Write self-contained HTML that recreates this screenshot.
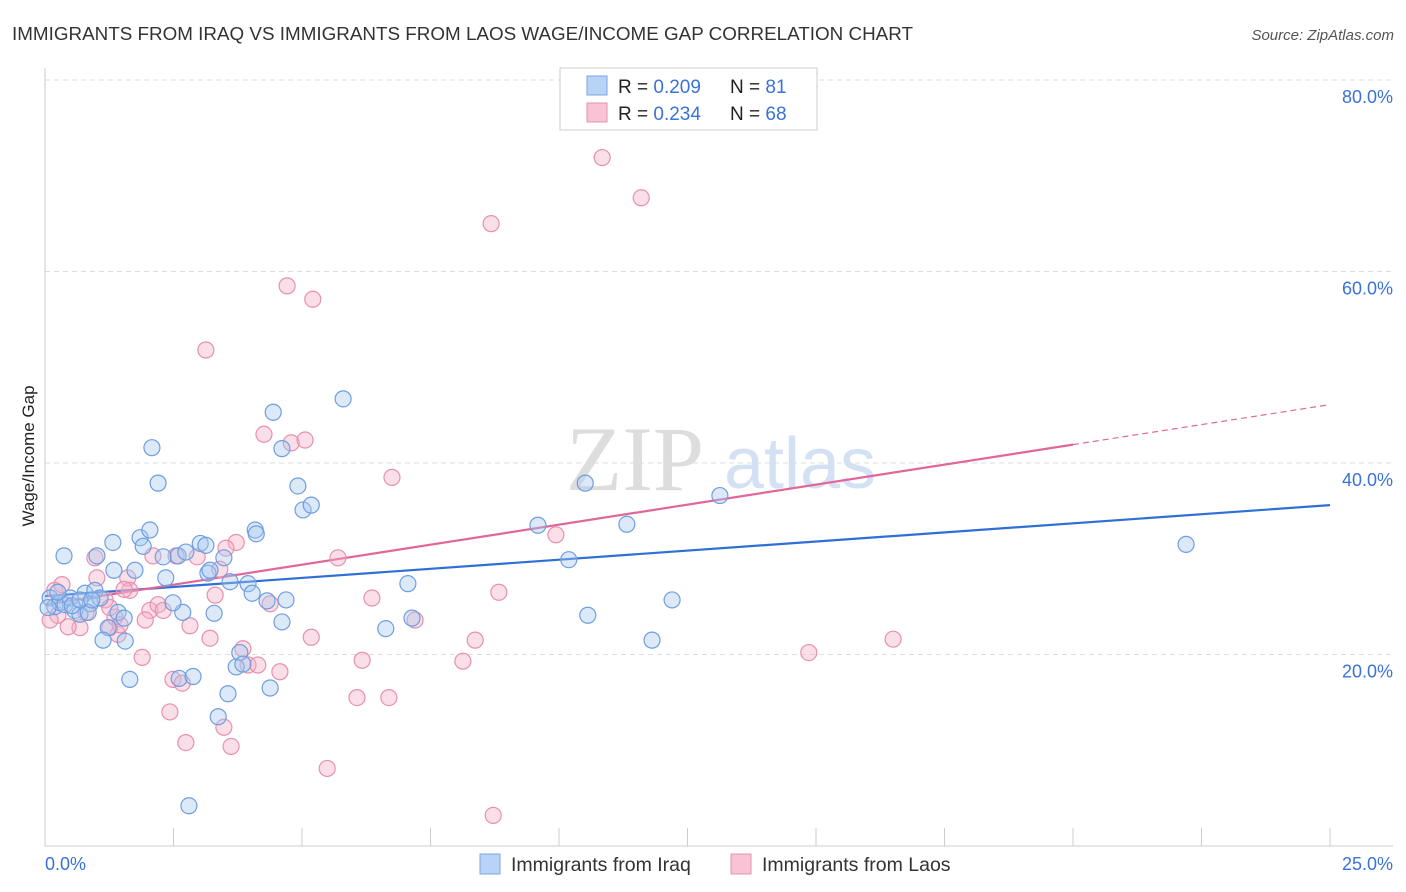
<!DOCTYPE html>
<html><head><meta charset="utf-8">
<style>
body{margin:0;background:#fff;font-family:"Liberation Sans",sans-serif;}
#wrap{position:relative;width:1406px;height:892px;overflow:hidden;}
</style></head>
<body>
<div id="wrap">
<svg id="svg" width="1406" height="892" xmlns="http://www.w3.org/2000/svg">
<text x="12" y="40" font-size="18" fill="#333" textLength="901" lengthAdjust="spacingAndGlyphs">IMMIGRANTS FROM IRAQ VS IMMIGRANTS FROM LAOS WAGE/INCOME GAP CORRELATION CHART</text>
<text x="1394" y="40" font-size="15" fill="#555" font-style="italic" text-anchor="end">Source: ZipAtlas.com</text>
<text x="34" y="456" font-size="17" fill="#222" text-anchor="middle" transform="rotate(-90 34 456)">Wage/Income Gap</text>
<g><text x="635" y="490" font-size="92" fill="#ddd" font-family="Liberation Serif,serif" text-anchor="middle">ZIP</text><text x="800" y="488" font-size="72" fill="#d4e1f4" text-anchor="middle">atlas</text></g>
<g id="grid"></g><g id="axes"></g><g id="lines"></g><g id="pts"></g>
<g>
<rect x="560" y="68" width="257" height="62" fill="#fff" stroke="#ccc"/>
<rect x="587" y="76" width="20" height="19" fill="#b9d3f5" stroke="#7aa6e0"/>
<rect x="587" y="103" width="20" height="19" fill="#f8c3d4" stroke="#e890ad"/>
<text x="618" y="93" font-size="19" fill="#222">R = <tspan fill="#3a72d8">0.209</tspan></text>
<text x="730" y="93" font-size="19" fill="#222">N = <tspan fill="#3a72d8"> 81</tspan></text>
<text x="618" y="120" font-size="19" fill="#222">R = <tspan fill="#3a72d8">0.234</tspan></text>
<text x="730" y="120" font-size="19" fill="#222">N = <tspan fill="#3a72d8">68</tspan></text>
</g>
<g>
<rect x="480" y="854" width="20" height="20" fill="#b9d3f5" stroke="#7aa6e0"/>
<text x="511" y="871" font-size="19.5" fill="#333">Immigrants from Iraq</text>
<rect x="731" y="854" width="20" height="20" fill="#f8c3d4" stroke="#e890ad"/>
<text x="762" y="871" font-size="19.5" fill="#333">Immigrants from Laos</text>
</g>
</svg>
</div>
<script>
const blueX=[0.37,1.01,1.32,2.08,2.20,1.85,2.04,1.91,2.30,2.59,2.74,3.02,3.13,2.35,3.17,3.21,3.48,3.60,3.95,4.03,4.09,4.11,4.44,4.61,4.92,5.02,5.18,5.80,4.32,4.69,4.61,3.29,2.68,2.49,1.42,1.54,1.23,1.13,1.56,1.65,2.61,2.88,3.56,3.37,2.80,3.79,3.72,3.85,4.38,6.63,7.06,7.14,9.59,10.19,10.51,10.56,11.32,11.81,12.20,13.13,22.20,0.10,0.19,0.29,0.39,0.49,0.58,0.68,0.78,0.88,0.97,1.07,0.06,0.25,1.75,1.34,0.84,0.53,0.68,0.91];
const blueY=[30.3,30.3,31.7,41.6,37.9,32.2,33.0,31.3,30.2,30.3,30.7,31.6,31.4,28.0,28.5,28.8,30.1,27.6,27.4,26.4,33.0,32.6,45.3,41.5,37.6,35.1,35.6,46.7,25.6,25.7,23.4,24.3,24.4,25.4,24.4,23.8,22.8,21.5,21.4,17.4,17.5,17.7,15.9,13.5,4.2,20.2,18.7,19.0,16.5,22.7,27.4,23.8,33.5,29.9,37.9,24.1,33.6,21.5,25.7,36.6,31.5,25.9,25.0,25.4,25.2,25.9,24.6,24.2,26.4,25.3,26.7,25.9,24.9,26.5,28.8,28.8,24.4,25.1,25.7,25.7];
const pinkX=[10.84,11.60,8.68,4.71,5.21,3.13,4.26,4.79,5.06,6.75,9.94,5.70,3.72,3.52,2.96,2.55,2.10,0.97,1.01,1.61,1.65,1.54,2.04,2.20,2.30,3.31,3.40,4.38,6.36,7.20,8.83,8.37,8.13,6.17,5.18,3.21,3.85,3.95,4.14,4.57,2.49,2.67,2.43,2.74,3.48,3.62,5.49,6.07,6.69,8.72,14.86,16.50,1.95,1.42,1.26,0.68,0.45,0.25,0.19,0.33,0.10,0.80,1.17,1.36,1.89,2.82,1.46,1.26];
const pinkY=[71.9,67.7,65.0,58.5,57.1,51.8,43.0,42.1,42.4,38.5,32.5,30.1,31.7,31.1,30.2,30.3,30.3,30.1,28.0,28.0,26.7,26.8,24.6,25.2,24.6,26.2,28.9,25.3,25.9,23.6,26.5,21.5,19.3,19.4,21.8,21.7,20.6,18.9,18.9,18.2,17.4,17.0,14.0,10.8,12.4,10.4,8.1,15.5,15.5,3.2,20.2,21.6,23.6,22.1,22.8,22.8,22.9,24.1,26.7,27.3,23.6,24.4,25.7,23.9,19.7,23.0,23.1,24.9];
const yTicks=[20,40,60,80];
const yTickLabels=["20.0%","40.0%","60.0%","80.0%"];
const xTickCount=10;
const blueTrend=[26.1,35.6];
const pinkTrend=[25.2,46.1];
const pinkSolidEnd=20;

const NS="http://www.w3.org/2000/svg";
const X0=45,X1=1330,Y0=846,Y80=80;
const xs=v=>X0+(v/25)*(X1-X0);
const ys=v=>Y0-(v/80)*(Y0-Y80);
function mk(tag,attrs,parent){const e=document.createElementNS(NS,tag);for(const k in attrs)e.setAttribute(k,attrs[k]);document.getElementById(parent).appendChild(e);return e;}

yTicks.forEach((t,i)=>{
  const l=mk('line',{x1:X0,x2:1393,y1:ys(t),y2:ys(t),stroke:'#ddd','stroke-dasharray':'5,4'},'grid');
  
  
  const tx=mk('text',{x:1393,y:ys(t)+23,'font-size':18,fill:'#3a72d8','text-anchor':'end'},'grid');
  tx.textContent=yTickLabels[i];
  
  
});
const ax=mk('line',{x1:X0,x2:X0,y1:68,y2:846,stroke:'#ccc'},'axes');


const bx=mk('line',{x1:X0,x2:1393,y1:846,y2:846,stroke:'#ccc'},'axes');


for(let i=1;i<=xTickCount;i++){
  const v=25*i/xTickCount;
  const t=mk('line',{x1:xs(v),x2:xs(v),y1:828,y2:846,stroke:'#ccc'},'axes');
  
  
}
const xl0=mk('text',{x:45,y:870,'font-size':18,fill:'#3a72d8'},'axes');xl0.textContent='0.0%';


const xl1=mk('text',{x:1393,y:870,'font-size':18,fill:'#3a72d8','text-anchor':'end'},'axes');xl1.textContent='25.0%';



function drawPts(X,Y,fill,stroke,name){
  X.forEach((x,i)=>{
    const c=mk('circle',{cx:xs(x),cy:ys(Y[i]),r:8,fill:fill,'fill-opacity':0.4,stroke:stroke,'stroke-width':1.2},'pts');
    
    
  });
}
drawPts(pinkX,pinkY,'#f5b0c6','#e890ad','point-laos');
drawPts(blueX,blueY,'#a8c8f0','#6f9ee0','point-iraq');

const bl=mk('line',{x1:xs(0),y1:ys(blueTrend[0]),x2:xs(25),y2:ys(blueTrend[1]),stroke:'#2f6fd6','stroke-width':2.2},'lines');


const pm=pinkTrend[0]+(pinkTrend[1]-pinkTrend[0])*pinkSolidEnd/25;
const pl=mk('line',{x1:xs(0),y1:ys(pinkTrend[0]),x2:xs(pinkSolidEnd),y2:ys(pm),stroke:'#e0679a','stroke-width':2.2},'lines');


const pd=mk('line',{x1:xs(pinkSolidEnd),y1:ys(pm),x2:xs(25),y2:ys(pinkTrend[1]),stroke:'#e0679a','stroke-width':1.2,'stroke-dasharray':'6,4'},'lines');


</script>
</body></html>
